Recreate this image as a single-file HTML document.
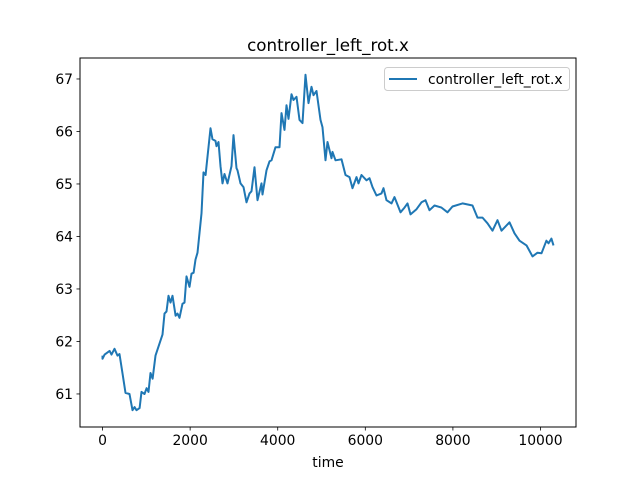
<!DOCTYPE html>
<html><head><meta charset="utf-8"><style>
body{margin:0;background:#fff;}
svg{display:block;font-family:"DejaVu Sans","Liberation Sans",sans-serif;}
</style></head><body>
<svg id="chart" width="640" height="480" viewBox="0 0 640 480">
<rect x="0" y="0" width="640" height="480" fill="#fff"/>
<text x="328" y="51" text-anchor="middle" font-size="16.7" fill="#000">controller_left_rot.x</text>
<g id="plot"></g>
<rect x="80" y="58" width="496" height="369" fill="none" stroke="#000" stroke-width="1"/>
<text x="328" y="467" text-anchor="middle" font-size="13.9" fill="#000">time</text>
<g>
<rect x="384.5" y="67.5" width="185" height="23" rx="3" fill="#fff" fill-opacity="0.8" stroke="#ccc"/>
<line x1="389" y1="79" x2="417" y2="79" stroke="#1f77b4" stroke-width="2"/>
<text x="428" y="84" font-size="13.9" fill="#000">controller_left_rot.x</text>
</g>
</svg>
<script>
const times=[0,0,46,160,205,274,342,388,457,525,616,685,731,776,845,890,959,1005,1050,1096,1142,1210,1301,1370,1415,1461,1507,1552,1598,1667,1712,1758,1826,1872,1918,1986,2032,2078,2123,2169,2260,2306,2352,2374,2466,2511,2580,2603,2648,2694,2740,2785,2854,2945,2991,3059,3082,3151,3219,3288,3356,3402,3470,3539,3630,3653,3744,3813,3858,3950,4041,4087,4155,4201,4246,4315,4361,4429,4498,4566,4635,4703,4772,4817,4886,4977,5023,5091,5137,5228,5251,5320,5456,5548,5639,5708,5799,5845,5913,6027,6096,6164,6255,6370,6415,6484,6598,6666,6803,6895,6963,7032,7169,7283,7374,7465,7580,7739,7876,7990,8219,8447,8561,8675,8790,8904,9018,9109,9292,9406,9520,9680,9817,9931,10022,10136,10182,10250,10296];
const values=[61.73,61.67,61.75,61.82,61.75,61.86,61.73,61.76,61.38,61.02,61.00,60.69,60.75,60.69,60.73,61.04,61.00,61.11,61.04,61.40,61.29,61.73,61.96,62.13,62.53,62.57,62.87,62.74,62.87,62.49,62.53,62.45,62.72,62.74,63.24,63.04,63.29,63.31,63.56,63.69,64.44,65.22,65.17,65.34,66.06,65.85,65.82,65.72,65.80,65.34,65.01,65.19,65.01,65.34,65.93,65.30,65.26,65.01,64.94,64.65,64.82,64.86,65.32,64.69,65.01,64.80,65.26,65.43,65.45,65.70,65.70,66.35,66.03,66.50,66.24,66.71,66.60,66.66,66.22,66.16,67.08,66.54,66.85,66.69,66.77,66.22,66.08,65.45,65.80,65.49,65.61,65.45,65.47,65.17,65.13,64.92,65.13,65.01,65.17,65.07,65.11,64.94,64.78,64.82,64.92,64.69,64.63,64.75,64.46,64.55,64.63,64.42,64.52,64.65,64.69,64.50,64.59,64.55,64.46,64.57,64.63,64.59,64.36,64.36,64.25,64.11,64.31,64.11,64.27,64.06,63.92,63.83,63.62,63.69,63.68,63.92,63.87,63.96,63.83];
const xTicks=[0,2000,4000,6000,8000,10000];
const yTicks=[61,62,63,64,65,66,67];

const NS="http://www.w3.org/2000/svg";
const L=80,R=576,T=58,B=427;
const tMin=Math.min(...times),tMax=Math.max(...times);
const vMin=Math.min(...values),vMax=Math.max(...values);
const xd=[tMin-(tMax-tMin)*0.05,tMax+(tMax-tMin)*0.05];
const yd=[vMin-(vMax-vMin)*0.05,vMax+(vMax-vMin)*0.05];
function sx(t){return L+(t-xd[0])/(xd[1]-xd[0])*(R-L);}
function sy(v){return B-(v-yd[0])/(yd[1]-yd[0])*(B-T);}
const plot=document.getElementById('plot');
function mk(tag,attrs){const e=document.createElementNS(NS,tag);for(const k in attrs)e.setAttribute(k,attrs[k]);return e;}
xTicks.forEach(t=>{
  const x=sx(t);
  const ln=mk('line',{x1:x,y1:B,x2:x,y2:B+3.5,stroke:'#000','stroke-width':0.8});
  
  
  plot.appendChild(ln);
  const tx=mk('text',{x:x,y:B+18,'text-anchor':'middle','font-size':13.9,fill:'#000'});
  tx.textContent=t;
  
  
  plot.appendChild(tx);
});
yTicks.forEach(v=>{
  const y=sy(v);
  const ln=mk('line',{x1:L-3.5,y1:y,x2:L,y2:y,stroke:'#000','stroke-width':0.8});
  
  
  plot.appendChild(ln);
  const tx=mk('text',{x:L-7,y:y+5,'text-anchor':'end','font-size':13.9,fill:'#000'});
  tx.textContent=v;
  
  
  plot.appendChild(tx);
});
const pts=times.map((t,i)=>sx(t).toFixed(1)+','+sy(values[i]).toFixed(1)).join(' ');
const pl=mk('polyline',{points:pts,fill:'none',stroke:'#1f77b4','stroke-width':2,'stroke-linejoin':'round'});


plot.appendChild(pl);
</script>
</body></html>
